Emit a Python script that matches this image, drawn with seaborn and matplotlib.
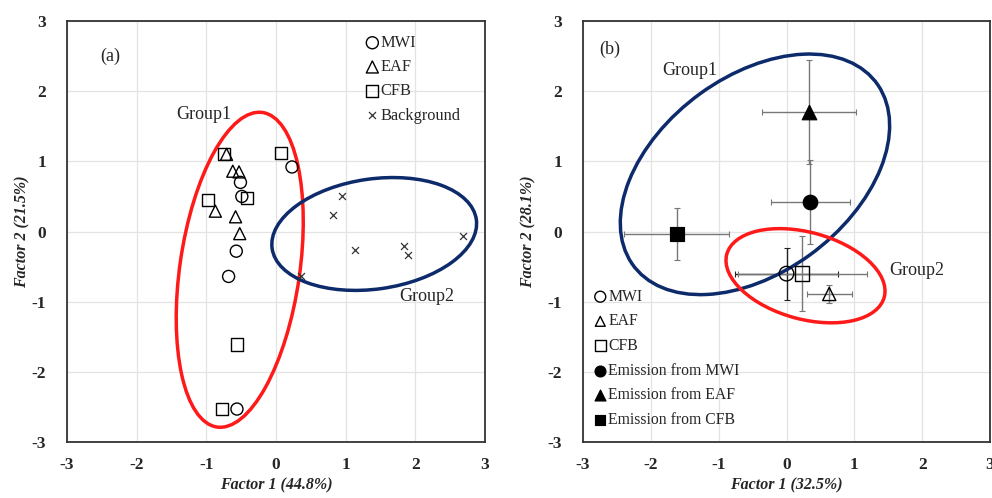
import numpy as np
import seaborn as sns
import matplotlib.pyplot as plt
from matplotlib.patches import Ellipse

# ---- panel (a) data ----
mwi_x = [0.23, -0.51, -0.49, -0.57, -0.68, -0.56]
mwi_y = [0.92, 0.70, 0.50, -0.28, -0.64, -2.53]
eaf_x = [-0.71, -0.62, -0.53, -0.87, -0.58, -0.52]
eaf_y = [1.10, 0.86, 0.85, 0.29, 0.21, -0.03]
cfb_x = [-0.75, 0.07, -0.97, -0.41, -0.56, -0.78]
cfb_y = [1.11, 1.12, 0.45, 0.48, -1.61, -2.53]
bg_x = [0.95, 0.82, 2.69, 1.14, 1.84, 1.89, 0.36]
bg_y = [0.50, 0.24, -0.07, -0.27, -0.20, -0.33, -0.64]

# ---- panel (b) data: mean, x-error, y-error ----
b_labels = ["MWI", "EAF", "CFB", "Emission from MWI", "Emission from EAF", "Emission from CFB"]
b_x = [0.00, 0.63, 0.23, 0.35, 0.33, -1.62]
b_y = [-0.60, -0.89, -0.60, 0.42, 1.70, -0.03]
b_xerr = [0.76, 0.33, 0.95, 0.58, 0.69, 0.77]
b_yerr = [0.37, 0.13, 0.53, 0.60, 0.74, 0.37]

sns.set_theme(style="whitegrid")
plt.rcParams['font.family'] = ['Liberation Serif', 'DejaVu Serif']
plt.rcParams['axes.unicode_minus'] = False

fig = plt.figure(figsize=(9.92, 4.98), dpi=100)
ax1 = fig.add_axes([0.0675, 0.1124, 0.4214, 0.8454])
ax2 = fig.add_axes([0.5877, 0.1124, 0.4103, 0.8454])


def style_axes(ax, xlabel, ylabel, ypad):
    ax.set_xlim(-3, 3)
    ax.set_ylim(-3, 3)
    ax.set_xticks(range(-3, 4))
    ax.set_yticks(range(-3, 4))
    ax.grid(True, color="#e3e3e3", linewidth=0.9)
    for s in ax.spines.values():
        s.set_color("#333333")
        s.set_linewidth(1.3)
    ax.tick_params(axis="both", length=0, labelsize=12.5)
    ax.tick_params(axis="x", pad=11)
    ax.tick_params(axis="y", pad=15)
    for t in ax.get_xticklabels() + ax.get_yticklabels():
        t.set_fontweight("bold")
    ax.set_xlabel(xlabel, fontsize=11.5, fontweight="bold", style="italic", labelpad=3)
    ax.set_ylabel(ylabel, fontsize=11.5, fontweight="bold", style="italic", labelpad=ypad)


open_kw = dict(facecolor="none", edgecolor="black", linewidth=1.0)

# ---- panel (a) ----
sns.scatterplot(x=mwi_x, y=mwi_y, marker="o", s=75, label="MWI", ax=ax1, zorder=3, **open_kw)
sns.scatterplot(x=eaf_x, y=eaf_y, marker="^", s=75, label="EAF", ax=ax1, zorder=3, **open_kw)
sns.scatterplot(x=cfb_x, y=cfb_y, marker="s", s=75, label="CFB", ax=ax1, zorder=3, **open_kw)
sns.scatterplot(x=bg_x, y=bg_y, marker="x", s=25, color="#333333", linewidth=0.9,
                label="Background", ax=ax1, zorder=3)

ax1.add_patch(Ellipse((-0.52, -0.545), 4.53, 1.72, angle=81.7, fill=False,
                      edgecolor="#ff1a1a", linewidth=2.5, zorder=2))
ax1.add_patch(Ellipse((1.41, -0.035), 2.96, 1.57, angle=8.0, fill=False,
                      edgecolor="#0d2a6b", linewidth=2.5, zorder=2))

ax1.text(-2.38, 2.5, "(a)", fontsize=13, ha="center", va="center")
ax1.text(-1.04, 1.67, "Group1", fontsize=13, ha="center", va="center")
ax1.text(2.16, -0.92, "Group2", fontsize=13, ha="center", va="center")

leg1 = ax1.legend(loc="upper right", bbox_to_anchor=(0.965, 0.99), frameon=False,
                  fontsize=11.8, handletextpad=0.0, labelspacing=0.5,
                  handlelength=1.0, borderaxespad=0.2)

style_axes(ax1, "Factor 1 (44.8%)", "Factor 2 (21.5%)", 1)

# ---- panel (b) ----
markers_b = ["o", "^", "s", "o", "^", "s"]
filled_b = [False, False, False, True, True, True]
ecolors_b = ["#222222", "#777777", "#777777", "#777777", "#777777", "#777777"]
sizes_b = [110, 90, 110, 110, 110, 110]

for i in range(len(b_labels)):
    ax2.errorbar(b_x[i], b_y[i], xerr=b_xerr[i], yerr=b_yerr[i], fmt="none",
                 ecolor=ecolors_b[i], elinewidth=1.0, capsize=2.5, capthick=0.8, zorder=2)

for i in range(len(b_labels)):
    if filled_b[i]:
        sns.scatterplot(x=[b_x[i]], y=[b_y[i]], marker=markers_b[i], s=sizes_b[i],
                        color="black", edgecolor="black", label=b_labels[i], ax=ax2, zorder=4)
    else:
        sns.scatterplot(x=[b_x[i]], y=[b_y[i]], marker=markers_b[i], s=sizes_b[i],
                        label=b_labels[i], ax=ax2, zorder=4, **open_kw)

ax2.add_patch(Ellipse((-0.465, 0.815), 4.43, 2.81, angle=35.0, fill=False,
                      edgecolor="#0d2a6b", linewidth=2.5, zorder=3))
ax2.add_patch(Ellipse((0.28, -0.63), 2.40, 1.24, angle=-14.5, fill=False,
                      edgecolor="#ff1a1a", linewidth=2.5, zorder=3))

ax2.text(-2.61, 2.59, "(b)", fontsize=13, ha="center", va="center")
ax2.text(-1.43, 2.30, "Group1", fontsize=13, ha="center", va="center")
ax2.text(1.92, -0.55, "Group2", fontsize=13, ha="center", va="center")

leg2 = ax2.legend(loc="lower left", bbox_to_anchor=(0.0, 0.011), frameon=False,
                  fontsize=11.3, handletextpad=0.0, labelspacing=0.55,
                  handlelength=1.0, borderaxespad=0.2, markerscale=0.75)

style_axes(ax2, "Factor 1 (32.5%)", "Factor 2 (28.1%)", 8)

fig.savefig("out.png", dpi=100)
